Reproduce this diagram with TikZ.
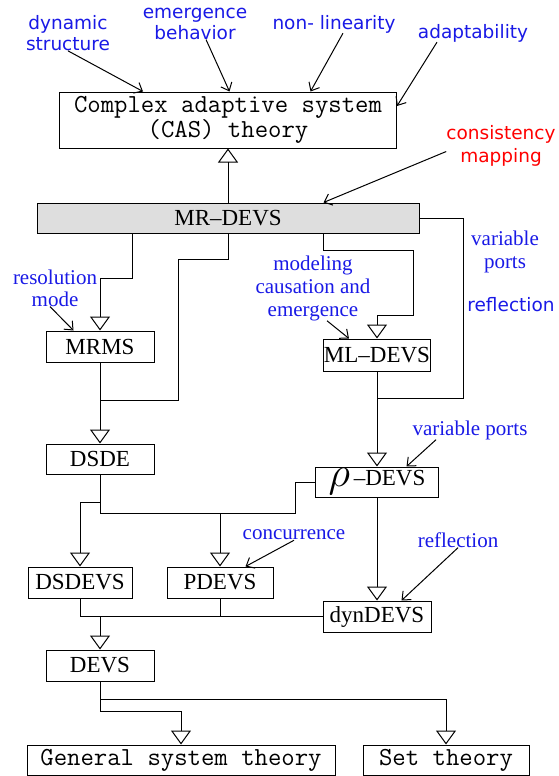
\documentclass[tikz,border=0pt]{standalone}
\usepackage{fontspec}
\usepackage{graphicx}
\setmainfont{Liberation Serif}
\newfontfamily\labsans{DejaVu Sans}
\usetikzlibrary{arrows.meta}
\definecolor{lblue}{RGB}{25,25,230}
\definecolor{mrgray}{RGB}{222,222,222}

\begin{document}
\begin{tikzpicture}[x=1pt, y=-1pt,
  box/.style={draw, line width=1pt, inner sep=0pt, font=\fontsize{23}{24}\selectfont},
  ttbox/.style={box, font=\ttfamily\fontsize{26}{25}\selectfont},
  lab/.style={text=lblue, align=center, inner sep=0pt, font=\fontsize{21}{23}\selectfont},
  slab/.style={lab, font=\labsans\fontsize{18.5}{21}\selectfont},
  inh/.style={line width=1pt, -{Triangle[open, length=14pt, width=20pt]}},
  ptr/.style={line width=1pt, -{Straight Barb[length=7pt, width=12pt]}}]
\useasboundingbox (0,0) rectangle (558,776);

\node[ttbox, minimum width=337pt, minimum height=56pt, align=center] (cas) at (228,120) {Complex adaptive system\\(CAS) theory};
\node[box, fill=mrgray, minimum width=382pt, minimum height=30pt] (mr) at (228,218) {MR--DEVS};
\node[box, minimum width=108pt, minimum height=31pt] (mrms) at (100,346.5) {MRMS};
\node[box, minimum width=103pt, minimum height=32pt] (ml) at (377,355) {ML--DEVS};
\node[box, minimum width=108pt, minimum height=30pt] (dsde) at (100,459) {DSDE};
\node[box, minimum width=123pt, minimum height=30pt] (rho) at (377,482) {\raisebox{-1pt}{\scalebox{1.7}{$\rho$}}\,--DEVS};
\node[box, minimum width=104pt, minimum height=31pt] (dsdevs) at (80,582.5) {DSDEVS};
\node[box, minimum width=106pt, minimum height=31pt] (pdevs) at (220,582.5) {PDEVS};
\node[box, minimum width=108pt, minimum height=31pt] (dd) at (377,616.5) {dynDEVS};
\node[box, minimum width=108pt, minimum height=31pt] (devs) at (100,665.5) {DEVS};
\node[ttbox, minimum width=308pt, minimum height=30pt] (gst) at (181,760) {General system theory};
\node[ttbox, minimum width=166pt, minimum height=30pt] (set) at (446,760) {Set theory};

\node[slab] (ldyn) at (68,33) {dynamic\\structure};
\node[slab] (lemg) at (195,23.5) {emergence\\behavior};
\node[slab] (lnon) at (334,24) {non- linearity};
\node[slab] (lada) at (473,33) {adaptability};
\node[slab, text=red, font=\labsans\fontsize{18.5}{23}\selectfont] (lcon) at (501,145.5) {consistency\\mapping};
\node[lab, font=\fontsize{21}{22}\selectfont] (lres) at (55,288) {resolution\\mode};
\node[lab] (lmod) at (313,288) {modeling\\causation and\\emergence};
\node[lab] (lvp) at (505,251.5) {variable\\ports};
\node[slab] (lref) at (511,305) {reflection};
\node[lab] (lvp2) at (470,430) {variable ports};
\node[lab] (lcc) at (294,535) {concurrence};
\node[lab] (lref2) at (458,540) {reflection};

\draw[inh] (mr.north) -- (cas.south);
\draw[inh] ([xshift=96pt]mr.south west) -- ++(0,45) -| (mrms.north);
\draw (mr.south) -- ++(0,26) -- ++(-50,0) -- ++(0,141) -- ++(-78,0);
\draw[inh] ([xshift=287pt]mr.south west) -- ++(0,17) -| ++(90,65) -| (ml.north);
\draw (mr.east) -- ++(44,0) -- ++(0,180) -| (ml.south);
\draw[inh] (ml) -- (rho);
\draw[inh] (mrms) -- (dsde);
\draw[inh] (dsde.south) -- ++(0,28) -| (dsdevs.north);
\draw (dsde.south) -- ++(0,39) -- ++(195,0) |- (rho.west);
\draw[inh] (dsde.south) -- ++(0,39) -| (pdevs.north);
\draw[inh] (rho) -- (dd);
\draw (dsdevs.south) |- (dd.west);
\draw (pdevs.south) -- (pdevs.south |- dd.west);
\draw[inh] (devs.north |- dd.west) -- (devs.north);
\draw[inh] (devs.south) -- ++(0,18) -| (set.north);
\draw[inh] (devs.south) -- ++(0,30) -| (gst.north);

\draw[ptr] (ldyn.south) -- ([xshift=84pt]cas.north west);
\draw[ptr] ([xshift=11pt]lemg.south) -- ([xshift=170.5pt]cas.north west);
\draw[ptr] ([xshift=9pt]lnon.south) -- ([xshift=251.5pt]cas.north west);
\draw[ptr] ([xshift=-36pt]lada.south) -- ([yshift=14pt]cas.east);
\draw[ptr] ([yshift=-6pt]lcon.west) -- ([xshift=287pt]mr.north west);
\draw[ptr] ([xshift=-5pt]lres.south) -- ([xshift=28pt]mrms.north west);
\draw[ptr] ([xshift=14pt]lmod.south) -- ([xshift=25.5pt]ml.north west);
\draw[ptr] ([xshift=-34pt]lvp2.south) -- ([xshift=91.5pt]rho.north west);
\draw[ptr] (lcc.south) -- ([xshift=79pt]pdevs.north west);
\draw[ptr] (lref2.south) -- ([xshift=79pt]dd.north west);
\end{tikzpicture}
\end{document}
